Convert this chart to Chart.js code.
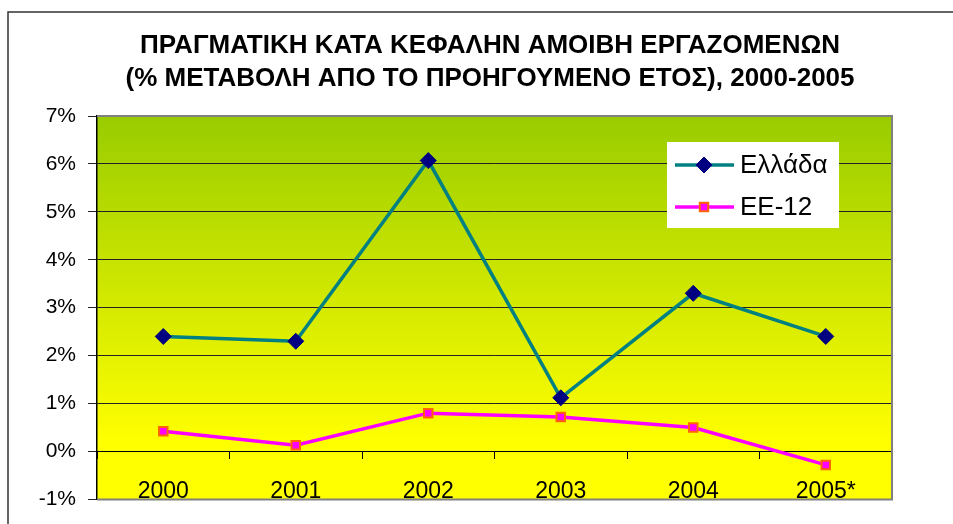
<!DOCTYPE html>
<html>
<head>
<meta charset="utf-8">
<script src="https://cdn.jsdelivr.net/npm/chart.js@4"></script>
<style>
  body { margin: 0; background: #fff; }
  #wrap { position: relative; width: 953px; height: 524px; }
</style>
</head>
<body>
<div id="wrap"><canvas id="wage-chart" width="953" height="524"></canvas></div>
<script>
const years = ['2000', '2001', '2002', '2003', '2004', '2005*'];
const greece = [2.4, 2.3, 6.07, 1.12, 3.3, 2.4];
const eu12 = [0.42, 0.13, 0.8, 0.72, 0.5, -0.28];
const yTicks = [-1, 0, 1, 2, 3, 4, 5, 6, 7];
const titleLines = [
  'ΠΡΑΓΜΑΤΙΚΗ ΚΑΤΑ ΚΕΦΑΛΗΝ ΑΜΟΙΒΗ ΕΡΓΑΖΟΜΕΝΩΝ',
  '(% ΜΕΤΑΒΟΛΗ ΑΠΟ ΤΟ ΠΡΟΗΓΟΥΜΕΝΟ ΕΤΟΣ), 2000-2005'
];

const font = "'Liberation Sans', Arial, sans-serif";

// plot background gradient, outer frame and the two-line title
const backdrop = {
  id: 'backdrop',
  beforeDraw(chart) {
    const { ctx, chartArea: a } = chart;
    ctx.save();
    const g = ctx.createLinearGradient(0, a.top, 0, a.bottom);
    g.addColorStop(0, '#99CC00');
    g.addColorStop(0.85, '#FFFF00');
    g.addColorStop(1, '#FFFF00');
    ctx.fillStyle = g;
    ctx.fillRect(a.left, a.top, a.right - a.left, a.bottom - a.top);
    ctx.strokeStyle = '#333';
    ctx.lineWidth = 1.5;
    ctx.beginPath();
    ctx.moveTo(8, 524);
    ctx.lineTo(8, 12);
    ctx.lineTo(953, 12);
    ctx.stroke();

    ctx.fillStyle = '#000';
    ctx.font = 'bold 26px ' + font;
    ctx.textAlign = 'center';
    ctx.textBaseline = 'middle';
    titleLines.forEach((t, i) => ctx.fillText(t, 490, 46 + i * 33));
    ctx.restore();
  },
  afterDraw(chart) {
    const { ctx, chartArea: a } = chart;
    ctx.save();
    ctx.strokeStyle = '#808080';
    ctx.lineWidth = 2;
    ctx.beginPath();
    ctx.moveTo(a.left, a.top);
    ctx.lineTo(a.right, a.top);
    ctx.lineTo(a.right, a.bottom);
    ctx.lineTo(a.left, a.bottom);
    ctx.stroke();
    ctx.restore();
  }
};

// legend box inside the plot, top right
const boxLegend = {
  id: 'boxLegend',
  afterDraw(chart) {
    const { ctx } = chart;
    const x0 = 667, y0 = 142, w = 172, h = 86;
    ctx.save();
    ctx.fillStyle = '#fff';
    ctx.fillRect(x0, y0, w, h);
    chart.data.datasets.forEach((ds, i) => {
      const cy = y0 + 23 + i * 42;
      const mx = x0 + 37;
      ctx.strokeStyle = ds.borderColor;
      ctx.lineWidth = ds.borderWidth;
      ctx.beginPath();
      ctx.moveTo(x0 + 8, cy);
      ctx.lineTo(x0 + 67, cy);
      ctx.stroke();
      ctx.fillStyle = ds.pointBackgroundColor;
      ctx.strokeStyle = ds.pointBorderColor;
      ctx.lineWidth = ds.pointBorderWidth;
      ctx.beginPath();
      if (ds.pointStyle === 'rectRot') {
        const r = ds.pointRadius;
        ctx.moveTo(mx, cy - r);
        ctx.lineTo(mx + r, cy);
        ctx.lineTo(mx, cy + r);
        ctx.lineTo(mx - r, cy);
        ctx.closePath();
      } else {
        const s = ds.pointRadius * 1.4;
        ctx.rect(mx - s / 2, cy - s / 2, s, s);
      }
      ctx.fill();
      ctx.stroke();
      ctx.fillStyle = '#000';
      ctx.font = '26px ' + font;
      ctx.textBaseline = 'middle';
      ctx.fillText(ds.label, x0 + 73, cy + 1);
    });
    ctx.restore();
  }
};

new Chart(document.getElementById('wage-chart'), {
  type: 'line',
  data: {
    labels: years,
    datasets: [
      {
        label: 'Ελλάδα',
        data: greece,
        borderColor: '#008080',
        borderWidth: 3.5,
        pointStyle: 'rectRot',
        pointRadius: 8,
        pointBorderWidth: 1,
        pointBackgroundColor: '#000080',
        pointBorderColor: '#000080',
        tension: 0
      },
      {
        label: 'ΕΕ-12',
        data: eu12,
        borderColor: '#FF00FF',
        borderWidth: 3.5,
        pointStyle: 'rect',
        pointRadius: 6,
        pointBorderWidth: 2,
        pointBackgroundColor: '#FF00FF',
        pointBorderColor: '#FF6600',
        tension: 0
      }
    ]
  },
  options: {
    responsive: false,
    animation: false,
    layout: { padding: { left: 0, right: 61, top: 116, bottom: 20 } },
    plugins: {
      legend: { display: false },
      tooltip: { enabled: false },
      title: { display: false }
    },
    scales: {
      x: {
        type: 'category',
        position: { y: 0 },
        offset: true,
        grid: { offset: true, drawOnChartArea: false, drawTicks: true, tickLength: 7, color: '#000' },
        border: { color: '#000', width: 1 },
        ticks: { color: '#000', padding: 19, font: { family: font, size: 23 } }
      },
      y: {
        min: -1,
        max: 7,
        afterBuildTicks(scale) { scale.ticks = yTicks.map(v => ({ value: v })); },
        afterFit(scale) { scale.width = 97; },
        grid: { color: '#222', lineWidth: 1, tickLength: 9 },
        border: { color: '#000', width: 1.5 },
        ticks: {
          color: '#000',
          padding: 12,
          font: { family: font, size: 21 },
          callback: v => v + '%'
        }
      }
    }
  },
  plugins: [backdrop, boxLegend]
});
</script>
</body>
</html>
